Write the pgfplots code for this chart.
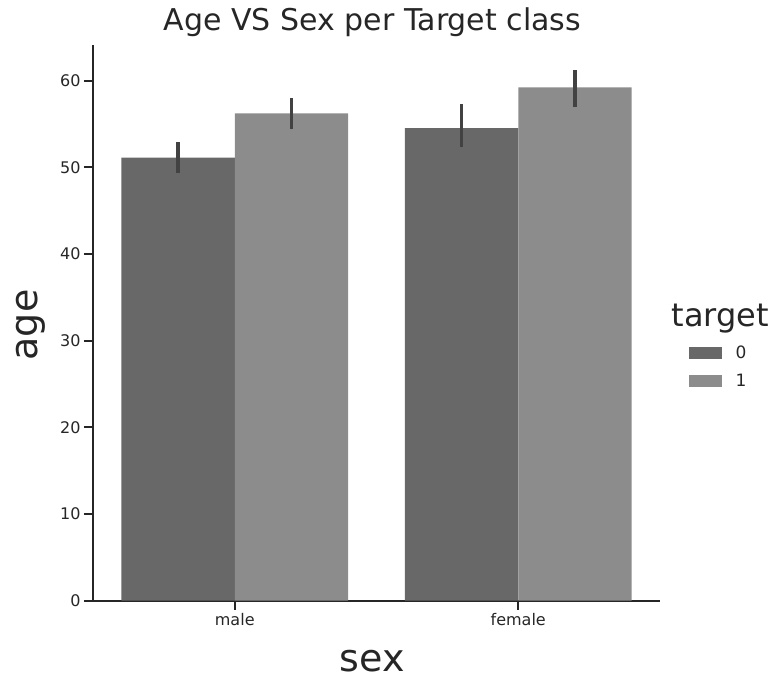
\documentclass[border=0pt]{standalone}
\usepackage{fontspec}
\setmainfont{DejaVu Sans}
\usepackage{pgfplots}
\pgfplotsset{compat=1.18}
\usepackage{pgfplotstable}

\definecolor{bardark}{HTML}{686868}
\definecolor{barlight}{HTML}{8C8C8C}
\definecolor{errgray}{HTML}{424242}
\definecolor{spine}{HTML}{262626}

% mean age per sex (0 = male, 1 = female), with upper/lower error extents
\pgfplotstableread{
x y ep em
0 51.1 1.8 1.8
1 54.5 2.8 2.2
}\targetzero
\pgfplotstableread{
x y ep em
0 56.2 1.8 1.8
1 59.2 2.0 2.3
}\targetone

\begin{document}
\begin{tikzpicture}
\path[use as bounding box] (0,0) rectangle (775bp,679bp);
\begin{axis}[
  at={(93bp,78.3bp)}, anchor=south west,
  scale only axis, width=567bp, height=555.7bp,
  xmin=-0.5, xmax=1.5, ymin=0, ymax=64.1,
  axis x line*=bottom, axis y line*=left,
  axis line style={spine, line width=2bp},
  xtick={0,1}, xticklabels={male,female},
  ytick={0,10,...,60},
  tick align=outside, major tick length=9bp,
  tick style={spine, line width=2bp},
  tick label style={font=\fontsize{16bp}{18bp}\selectfont, text=spine},
  /pgf/number format/assume math mode=true,
  ybar, bar width=0.4,
  legend style={at={(axis description cs:1.05,0.462)}, anchor=north west,
    draw=none, fill=none, inner sep=0pt, row sep=10bp, column sep=12bp,
    font=\fontsize{17bp}{18bp}\selectfont, text=spine,
    nodes={inner sep=2bp}},
]
\addplot[fill=bardark, draw=none, bar shift=-0.2,
  legend image code/.code={\fill[bardark] (0bp,-6bp) rectangle (33bp,6bp);},
  error bars/.cd, y dir=both, y explicit, error mark=none,
  error bar style={color=errgray, line width=3.2bp}]
  table[x=x, y=y, y error plus=ep, y error minus=em] {\targetzero};
\addlegendentry{0}
\addplot[fill=barlight, draw=none, bar shift=0.2,
  legend image code/.code={\fill[barlight] (0bp,-6bp) rectangle (33bp,6bp);},
  error bars/.cd, y dir=both, y explicit, error mark=none,
  error bar style={color=errgray, line width=3.2bp}]
  table[x=x, y=y, y error plus=ep, y error minus=em] {\targetone};
\addlegendentry{1}
\end{axis}
\node[anchor=base, font=\fontsize{30bp}{32bp}\selectfont, text=spine] at (372.5bp,648.3bp) {Age VS Sex per Target class};
\node[anchor=base, font=\fontsize{38bp}{40bp}\selectfont, text=spine] at (372bp,8bp) {sex};
\node[anchor=base, rotate=90, font=\fontsize{38bp}{40bp}\selectfont, text=spine] at (37bp,354bp) {age};
\node[anchor=base west, font=\fontsize{32bp}{34bp}\selectfont, text=spine] at (668bp,352.3bp) {target};
\end{tikzpicture}
\end{document}
